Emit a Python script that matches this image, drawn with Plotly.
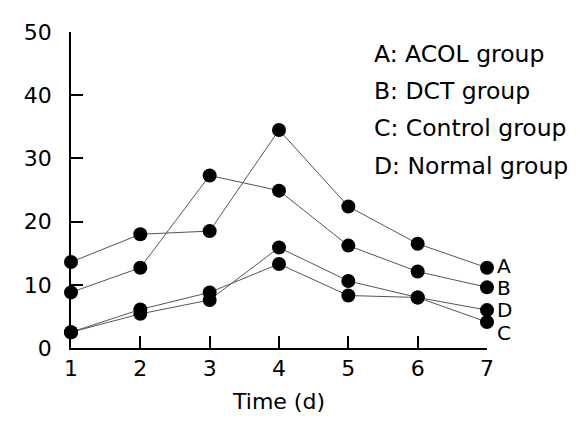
import plotly.graph_objects as go

days = [1, 2, 3, 4, 5, 6, 7]
acol = [13.6, 18.0, 18.5, 34.5, 22.4, 16.5, 12.7]
dct = [8.8, 12.7, 27.3, 24.9, 16.2, 12.1, 9.6]
control = [2.5, 5.4, 7.6, 15.9, 10.6, 8.0, 4.1]
normal = [2.5, 6.1, 8.8, 13.3, 8.3, 8.0, 6.0]
end_labels = ["A", "B", "C", "D"]
label_yshift = [2, -1, -11, 0]
legend_lines = ["A: ACOL group", "B: DCT group", "C: Control group", "D: Normal group"]
yticks = [0, 10, 20, 30, 40, 50]

FONT = "DejaVu Sans"
fig = go.Figure()
series = [acol, dct, control, normal]
for s in series:
    fig.add_trace(go.Scatter(
        x=days, y=s, mode="lines+markers",
        line=dict(color="#555555", width=1),
        marker=dict(color="black", size=14),
        cliponaxis=False, showlegend=False,
    ))

for lab, s, ys in zip(end_labels, series, label_yshift):
    fig.add_annotation(x=days[-1], y=s[-1], text=lab, showarrow=False,
                       xanchor="left", yanchor="middle", xshift=8, yshift=ys,
                       font=dict(family=FONT, size=20, color="black"))

for i, t in enumerate(legend_lines):
    fig.add_annotation(xref="paper", yref="paper", x=(372 - 71) / 416,
                       y=1 - (47 + 38.3 * i - 25) / 323, text=t, showarrow=False,
                       xanchor="left", yanchor="middle",
                       font=dict(family=FONT, size=23.5, color="black"))

fig.update_layout(
    width=575, height=423,
    margin=dict(l=63, r=96, t=17, b=83),
    plot_bgcolor="white", paper_bgcolor="white",
    font=dict(family=FONT, size=22, color="black"),
)
fig.update_xaxes(
    range=[1, 7], tickvals=days, showline=True, linecolor="black", linewidth=1.5,
    ticks="inside", ticklen=12, tickcolor="black", tickwidth=1.5,
    showgrid=False, zeroline=False,
    title=dict(text="Time (d)", standoff=13, font=dict(family=FONT, size=22)),
    tickfont=dict(family=FONT, size=22),
)
fig.update_yaxes(
    range=[0, 50], tickvals=yticks, showline=True, linecolor="black", linewidth=1.5,
    ticks="inside", ticklen=12, tickcolor="black", tickwidth=1.5,
    showgrid=False, zeroline=False, ticklabelstandoff=13,
    tickfont=dict(family=FONT, size=22),
)
fig.write_html("out.html")
